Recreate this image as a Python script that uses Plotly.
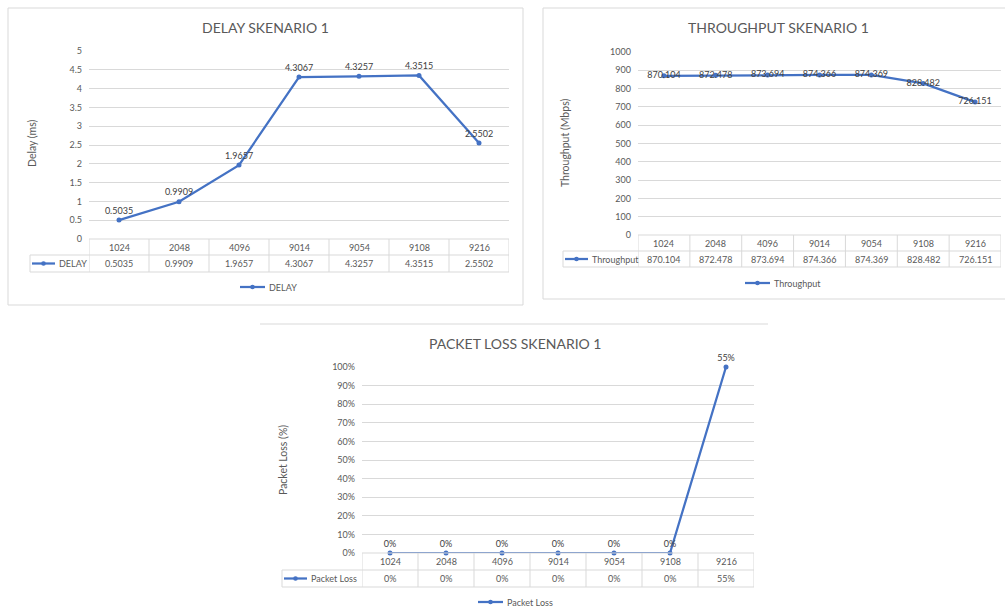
import plotly.graph_objects as go

W, H = 1005, 608
BLUE = "#4472C4"
TXT = "#595959"
GRID = "#D9D9D9"
FONT = "Lato"

categories = ["1024", "2048", "4096", "9014", "9054", "9108", "9216"]
delay_ms = [0.5035, 0.9909, 1.9657, 4.3067, 4.3257, 4.3515, 2.5502]
throughput_mbps = [870.104, 872.478, 873.694, 874.366, 874.369, 828.482, 726.151]
packet_loss_plotted = [0, 0, 0, 0, 0, 0, 1.0]
packet_loss_labels = ["0%", "0%", "0%", "0%", "0%", "0%", "55%"]

delay_ticks = [0, 0.5, 1, 1.5, 2, 2.5, 3, 3.5, 4, 4.5, 5]
throughput_ticks = [0, 100, 200, 300, 400, 500, 600, 700, 800, 900, 1000]
loss_ticks = [0, 0.1, 0.2, 0.3, 0.4, 0.5, 0.6, 0.7, 0.8, 0.9, 1.0]


def px(x):
    return x / W


def py(y):
    return 1 - y / H


charts = [
    dict(ax="", title="DELAY SKENARIO 1", ytitle="Delay (ms)", name="DELAY",
         y=delay_ms, labels=[f"{v:.4f}" for v in delay_ms], textpos="top center",
         ticks=delay_ticks, ticktext=[f"{t:g}" for t in delay_ticks], yr=[0, 5],
         plot=(89, 509, 51, 239), rows=(239, 255, 272), tleft=30,
         title_xy=(265, 27), ytitle_xy=(32, 143), legend_xy=(240, 287),
         frame=(8, 523, 8, 305)),
    dict(ax="2", title="THROUGHPUT SKENARIO 1", ytitle="Throughput (Mbps)", name="Throughput",
         y=throughput_mbps, labels=[f"{v:.3f}" for v in throughput_mbps], textpos="middle center",
         ticks=throughput_ticks, ticktext=[f"{t:g}" for t in throughput_ticks], yr=[0, 1000],
         plot=(638, 1001, 52, 235), rows=(235, 251, 267), tleft=563,
         title_xy=(778, 28), ytitle_xy=(565, 143), legend_xy=(745, 283),
         frame=(543, 1013, 8, 299)),
    dict(ax="3", title="PACKET LOSS SKENARIO 1", ytitle="Packet Loss (%)", name="Packet Loss",
         y=packet_loss_plotted, labels=packet_loss_labels, textpos="top center",
         ticks=loss_ticks, ticktext=[f"{round(t*100)}%" for t in loss_ticks], yr=[0, 1],
         plot=(362, 754, 367, 553), rows=(553, 570, 587), tleft=282,
         title_xy=(515, 343), ytitle_xy=(283, 460), legend_xy=(478, 602),
         frame=None),
]

fig = go.Figure()
shapes = []
annotations = []
layout = {}


def note(text, x, y, xref="paper", size=9, xanchor="center", angle=0, color=TXT):
    annotations.append(dict(text=text, x=x, y=y, xref=xref, yref="paper",
                            xanchor=xanchor, yanchor="middle", showarrow=False,
                            textangle=angle, font=dict(family=FONT, size=size, color=color)))


def key(x, y, length=24):
    shapes.append(dict(type="line", xref="paper", yref="paper", x0=px(x), x1=px(x + length),
                       y0=py(y), y1=py(y), line=dict(color=BLUE, width=2.25)))
    cx = x + length / 2
    shapes.append(dict(type="circle", xref="paper", yref="paper", x0=px(cx - 2.3), x1=px(cx + 2.3),
                       y0=py(y + 2.3), y1=py(y - 2.3), fillcolor=BLUE, line=dict(width=0)))


for c in charts:
    ax = c["ax"]
    xa, ya = "x" + ax, "y" + ax
    x0, x1, y0, y1 = c["plot"]
    fig.add_trace(go.Scatter(
        x=categories, y=c["y"], mode="lines+markers+text", text=c["labels"],
        textposition=c["textpos"], textfont=dict(family=FONT, size=9, color="#404040"),
        line=dict(color=BLUE, width=2.25), marker=dict(size=5, color=BLUE),
        name=c["name"], xaxis=xa, yaxis=ya, cliponaxis=False,
        showlegend=False, hoverinfo="x+y"))
    layout["xaxis" + ax] = dict(
        type="category", range=[-0.5, len(categories) - 0.5], automargin=False,
        domain=[px(x0), px(x1)], anchor=ya, showticklabels=False,
        showgrid=False, zeroline=False, showline=False, fixedrange=True)
    layout["yaxis" + ax] = dict(
        range=c["yr"], domain=[py(y1), py(y0)], anchor=xa, automargin=False,
        tickvals=c["ticks"], ticktext=c["ticktext"],
        tickfont=dict(family=FONT, size=9, color=TXT), ticklabelstandoff=6,
        showgrid=True, gridcolor=GRID, gridwidth=1, zeroline=False,
        showline=False, ticks="", fixedrange=True)

    note(c["title"], px(c["title_xy"][0]), py(c["title_xy"][1]), size=14)
    note(c["ytitle"], px(c["ytitle_xy"][0]), py(c["ytitle_xy"][1]), size=10.5, angle=-90)

    # data table
    r0, r1, r2 = c["rows"]
    lw = dict(color=GRID, width=1)
    shapes.append(dict(type="line", xref="paper", yref="paper", x0=px(x0), x1=px(x1),
                       y0=py(r0), y1=py(r0), line=lw))
    for yy in (r1, r2):
        shapes.append(dict(type="line", xref="paper", yref="paper", x0=px(c["tleft"]), x1=px(x1),
                           y0=py(yy), y1=py(yy), line=lw))
    shapes.append(dict(type="line", xref="paper", yref="paper", x0=px(c["tleft"]), x1=px(c["tleft"]),
                       y0=py(r1), y1=py(r2), line=lw))
    for i in range(len(categories) + 1):
        shapes.append(dict(type="line", xref=xa, yref="paper", x0=i - 0.5, x1=i - 0.5,
                           y0=py(r0), y1=py(r2), line=lw))
    for i, cat in enumerate(categories):
        note(cat, i, py((r0 + r1) / 2), xref=xa)
        note(c["labels"][i], i, py((r1 + r2) / 2), xref=xa)
    # legend key inside table
    ky = (r1 + r2) / 2
    key(c["tleft"] + 2, ky, 23)
    note(c["name"], px(c["tleft"] + 27), py(ky), xanchor="left")

    # bottom legend
    lx, ly = c["legend_xy"]
    key(lx, ly, 25)
    note(c["name"], px(lx + 27), py(ly), xanchor="left")

    # chart frame
    if c["frame"]:
        fx0, fx1, fy0, fy1 = c["frame"]
        shapes.append(dict(type="rect", xref="paper", yref="paper", x0=px(fx0), x1=px(fx1),
                           y0=py(fy1), y1=py(fy0), line=dict(color=GRID, width=1)))

# top edge of the packet loss chart area
shapes.append(dict(type="line", xref="paper", yref="paper", x0=px(260), x1=px(768),
                   y0=py(324), y1=py(324), line=dict(color=GRID, width=1)))

fig.update_layout(
    width=W, height=H, margin=dict(l=0, r=0, t=0, b=0, pad=0), autosize=False,
    paper_bgcolor="white", plot_bgcolor="white", showlegend=False,
    shapes=shapes, annotations=annotations, **layout)

fig.write_html("out.html", config={"displayModeBar": False},
               post_script="document.body.style.margin='0';document.body.style.padding='0';"
                           "document.body.style.overflow='hidden';")
